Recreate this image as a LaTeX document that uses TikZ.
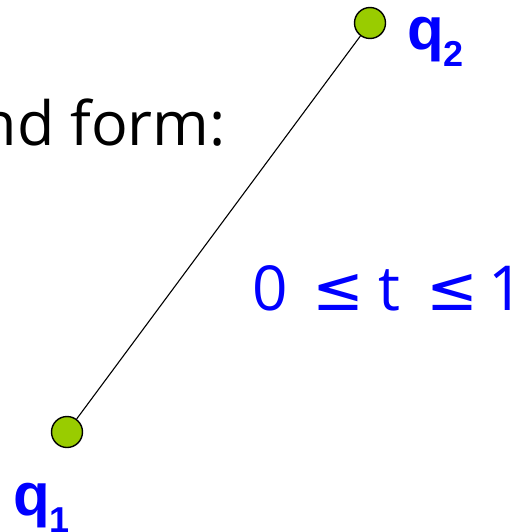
\documentclass[tikz,border=0pt]{standalone}
\usepackage{fontspec}
\setmainfont{Open Sans}
\newfontfamily\lab{Liberation Sans}
\newfontfamily\dejavu{DejaVu Sans}
\definecolor{ptgreen}{HTML}{99CC00}
\definecolor{labblue}{HTML}{0000FF}
\begin{document}
\begin{tikzpicture}[x=1pt,y=-1pt,
  pt/.style={circle,draw=black,line width=1.4pt,fill=ptgreen,minimum size=31pt,inner sep=0pt},
  qlab/.style={text=labblue,font=\lab\bfseries\fontsize{60}{60}\selectfont,inner sep=0pt,anchor=base west},
  txt/.style={inner sep=0pt,anchor=base east}]
\useasboundingbox (0,0) rectangle (524,532);
\node[pt] (q1) at (67,432) {};
\node[pt] (q2) at (370,23) {};
\draw[line width=1.1pt] (q1) -- (q2);
\node[qlab] (l2) at (407,50) {q\raisebox{-17pt}{\fontsize{36}{36}\selectfont 2}};
\node[qlab] (l1) at (13,515) {q\raisebox{-17pt}{\fontsize{36}{36}\selectfont 1}};
\node[txt,font=\fontsize{61}{61}\selectfont] (form) at (226,145) {nd form:};
\node[inner sep=0pt,anchor=base west,text=labblue,font=\fontsize{62}{62}\selectfont] (range) at (252,310)
  {\rlap{0}\hspace{60pt}\rlap{\dejavu ≤}\hspace{66pt}\rlap{t}\hspace{48pt}\rlap{\dejavu ≤}\hspace{62pt}1};
\end{tikzpicture}
\end{document}
